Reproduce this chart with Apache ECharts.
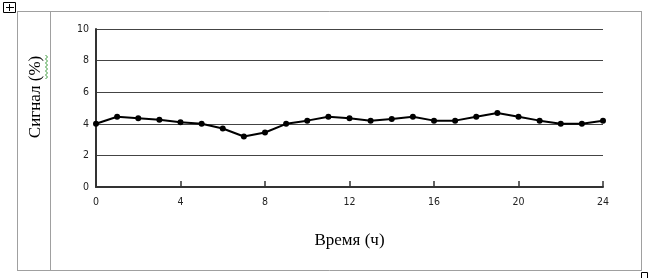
<!DOCTYPE html>
<html>
<head>
<meta charset="utf-8">
<script src="https://cdn.jsdelivr.net/npm/echarts@6/dist/echarts.min.js"></script>
<style>html,body{margin:0;padding:0;background:#fff;}#c{width:657px;height:278px;}</style>
</head>
<body>
<div id="c"></div>
<script>
var hours = [0,1,2,3,4,5,6,7,8,9,10,11,12,13,14,15,16,17,18,19,20,21,22,23,24];
var signal = [4.0,4.45,4.35,4.25,4.1,4.0,3.7,3.2,3.45,4.0,4.2,4.45,4.35,4.2,4.3,4.45,4.2,4.2,4.45,4.68,4.45,4.2,4.0,4.0,4.2];
var xTitle = 'Время (ч)';
var yTitle = 'Сигнал (%)';

var chart = echarts.init(document.getElementById('c'), null, {renderer:'canvas'});
var wave = [];
for (var i = 0; i <= 12; i++) { wave.push([i % 2 ? 47.5 : 45.5, 55 + i * 2]); }
chart.setOption({
  animation:false,
  backgroundColor:'#fff',
  grid:{left:96,right:54,top:29,bottom:91},
  xAxis:{
    type:'value',min:0,max:24,interval:4,
    name:xTitle,nameLocation:'middle',nameGap:45,
    nameTextStyle:{fontFamily:'Liberation Serif',fontSize:17,color:'#000'},
    axisLine:{lineStyle:{color:'#333',width:2}},
    axisTick:{show:true,inside:true,length:6,lineStyle:{color:'#333',width:1.5}},
    axisLabel:{fontFamily:'DejaVu Sans Condensed',fontSize:10.5,color:'#222',margin:10},
    splitLine:{show:false}
  },
  yAxis:{
    type:'value',min:0,max:10,interval:2,
    axisLine:{show:true,lineStyle:{color:'#333',width:2}},
    axisTick:{show:false},
    axisLabel:{fontFamily:'DejaVu Sans Condensed',fontSize:10.5,color:'#222',margin:7},
    splitLine:{show:true,lineStyle:{color:'#444',width:1}}
  },
  series:[{
    type:'line',
    data:hours.map(function(h,i){return [h,signal[i]];}),
    symbol:'circle',symbolSize:6,
    itemStyle:{color:'#000'},
    lineStyle:{color:'#000',width:2}
  }],
  graphic:[
    {type:'line',shape:{x1:17,y1:11.5,x2:641.5,y2:11.5},style:{stroke:'#a0a0a0',lineWidth:1}},
    {type:'line',shape:{x1:17,y1:270.5,x2:641.5,y2:270.5},style:{stroke:'#a0a0a0',lineWidth:1}},
    {type:'line',shape:{x1:17.5,y1:11,x2:17.5,y2:271},style:{stroke:'#a0a0a0',lineWidth:1}},
    {type:'line',shape:{x1:50.5,y1:11,x2:50.5,y2:271},style:{stroke:'#a0a0a0',lineWidth:1}},
    {type:'line',shape:{x1:641.5,y1:11,x2:641.5,y2:271},style:{stroke:'#a0a0a0',lineWidth:1}},
    {type:'rect',shape:{x:3.5,y:2.5,width:12,height:10},style:{fill:'#fff',stroke:'#000',lineWidth:1}},
    {type:'line',shape:{x1:6,y1:7.5,x2:14,y2:7.5},style:{stroke:'#000',lineWidth:1}},
    {type:'line',shape:{x1:9.5,y1:4,x2:9.5,y2:11},style:{stroke:'#000',lineWidth:1}},
    {type:'rect',shape:{x:641.5,y:272.5,width:6,height:6},style:{fill:'#fff',stroke:'#000',lineWidth:1}},
    {type:'text',x:36,y:97,rotation:Math.PI/2,style:{text:yTitle,fontFamily:'Liberation Serif',fontSize:17,fill:'#000',align:'center',verticalAlign:'middle'}},
    {type:'polyline',shape:{points:wave},style:{stroke:'#3a9a3a',lineWidth:1,fill:null}}
  ]
});
</script>
</body>
</html>
